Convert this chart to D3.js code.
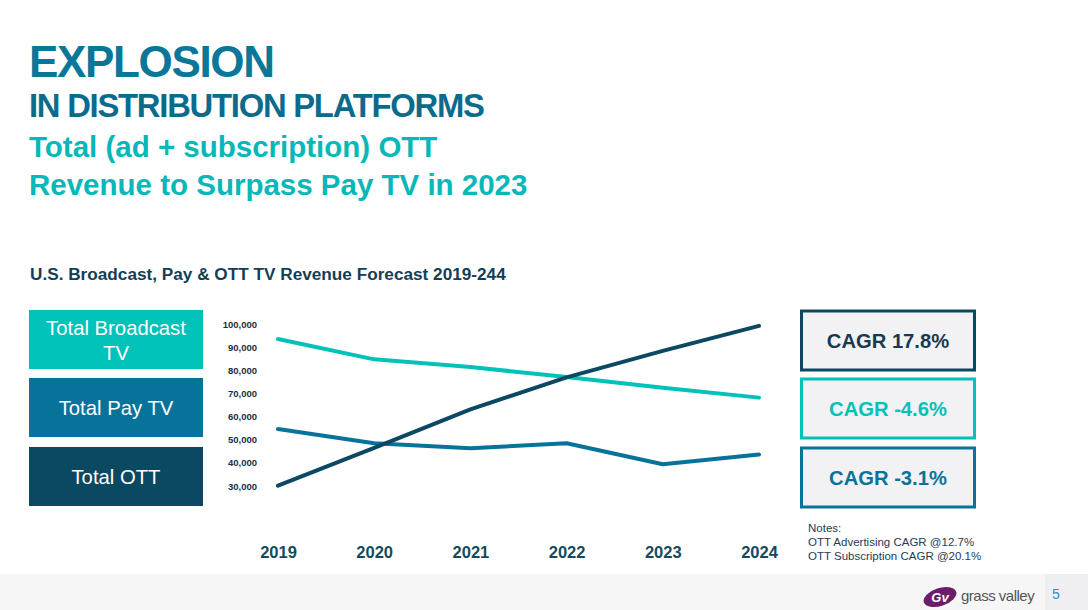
<!DOCTYPE html>
<html><head><meta charset="utf-8">
<script src="https://cdn.jsdelivr.net/npm/d3@7"></script>
<style>
html,body{margin:0;padding:0;background:#fff;}
svg{display:block;font-family:"Liberation Sans",Arial,sans-serif;}
</style></head>
<body>
<svg id="c" width="1088" height="610"></svg>
<script>
const years = ["2019","2020","2021","2022","2023","2024"];
const broadcastTV = [93600, 84800, 81500, 77100, 72500, 68200];
const payTV = [54600, 48400, 46200, 48400, 39300, 43500];
const ott = [30000, 46400, 63100, 77000, 88500, 99300];
const yTicks = [30000, 40000, 50000, 60000, 70000, 80000, 90000, 100000];
const seriesNames = ["Total Broadcast TV", "Total Pay TV", "Total OTT"];
const cagrLabels = ["CAGR 17.8%", "CAGR -4.6%", "CAGR -3.1%"];
const notes = ["Notes:", "OTT Advertising CAGR @12.7%", "OTT Subscription CAGR @20.1%"];

const cBroad = "#00c2b8", cPay = "#08739a", cOtt = "#0b4862";
const svg = d3.select("#c");

// footer band
svg.append("rect").attr("x",0).attr("y",574).attr("width",1088).attr("height",36).attr("fill","#f6f6f7");
svg.append("rect").attr("x",1045).attr("y",574).attr("width",43).attr("height",36).attr("fill","#efeff1");
svg.append("text").attr("x",1056).attr("y",599).attr("font-size",14).attr("fill","#2a8fc8").attr("text-anchor","middle").text("5");
// logo
const lg = svg.append("g");
lg.append("ellipse").attr("cx",940).attr("cy",597).attr("rx",17).attr("ry",9).attr("transform","rotate(-18 940 597)").attr("fill","#6b1d6a");
lg.append("text").attr("x",940).attr("y",602).attr("font-size",13).attr("font-style","italic").attr("font-weight","bold").attr("fill","#fff").attr("text-anchor","middle").text("Gv");
lg.append("text").attr("x",961).attr("y",601).attr("font-size",15).attr("fill","#555").attr("letter-spacing","-0.5").text("grass valley");

// titles
svg.append("text").attr("x",29).attr("y",77).attr("font-size",44).attr("font-weight","bold").attr("fill","#0a7799").attr("letter-spacing","-1.35").text("EXPLOSION");
svg.append("text").attr("x",29).attr("y",117).attr("font-size",32.8).attr("font-weight","bold").attr("fill","#0c6b8c").attr("letter-spacing","-1.25").text("IN DISTRIBUTION PLATFORMS");
svg.append("text").attr("x",29).attr("y",157).attr("font-size",29.5).attr("font-weight","bold").attr("fill","#06b8b8").text("Total (ad + subscription) OTT");
svg.append("text").attr("x",29).attr("y",195).attr("font-size",29.5).attr("font-weight","bold").attr("fill","#06b8b8").text("Revenue to Surpass Pay TV in 2023");
svg.append("text").attr("x",30).attr("y",280).attr("font-size",17.2).attr("font-weight","bold").attr("fill","#143e58").text("U.S. Broadcast, Pay & OTT TV Revenue Forecast 2019-244");

// left legend boxes
const legCols = [cBroad, cPay, cOtt];
const legY = [310, 378, 447];
seriesNames.forEach((n,i)=>{
  svg.append("rect").attr("x",29).attr("y",legY[i]).attr("width",174).attr("height",59).attr("fill",legCols[i]);
  const t = svg.append("text").attr("x",116).attr("font-size",20.3).attr("fill","#fff").attr("text-anchor","middle");
  if(i===0){
    t.append("tspan").attr("x",116).attr("y",legY[i]+25).text("Total Broadcast");
    t.append("tspan").attr("x",116).attr("y",legY[i]+50).text("TV");
  } else {
    t.attr("y",legY[i]+37).text(n);
  }
});

// right CAGR boxes
const cagrCols = [cOtt, cBroad, cPay];
const cagrY = [310, 378, 447];
cagrLabels.forEach((l,i)=>{
  svg.append("rect").attr("x",801.5).attr("y",cagrY[i]+1).attr("width",173).attr("height",59).attr("fill","#f2f2f4").attr("stroke",cagrCols[i]).attr("stroke-width",3);
  svg.append("text").attr("x",888).attr("y",cagrY[i]+38).attr("font-size",20.2).attr("font-weight","bold").attr("fill",cagrCols[i]===cOtt?"#173a52":cagrCols[i]).attr("text-anchor","middle").text(l);
});
notes.forEach((n,i)=>{
  svg.append("text").attr("x",808).attr("y",532+i*14).attr("font-size",11.5).attr("fill","#1e3c55").text(n);
});

// chart
const x = d3.scalePoint().domain(years).range([278, 759]);
const y = d3.scaleLinear().domain([30000, 100000]).range([485.7, 324.3]);

const yAxis = d3.axisLeft(y).tickValues(yTicks).tickFormat(d3.format(",")).tickSize(0).tickPadding(0);
const ya = svg.append("g").attr("transform","translate(257,0)").call(yAxis);
ya.select(".domain").remove();
ya.selectAll("text").attr("font-size",9.5).attr("font-weight","bold").attr("fill","#1b2e40").attr("font-family","Liberation Sans, Arial, sans-serif").attr("dy","0.35em");

const xAxis = d3.axisBottom(x).tickSize(0).tickPadding(0);
const xa = svg.append("g").attr("transform","translate(0,546)").call(xAxis);
xa.select(".domain").remove();
xa.selectAll("text").attr("font-size",16.5).attr("font-weight","bold").attr("fill","#144a60").attr("font-family","Liberation Sans, Arial, sans-serif").attr("dy","0.75em");

const line = d3.line().x((d,i)=>x(years[i])).y(d=>y(d));
[[broadcastTV,cBroad],[payTV,cPay],[ott,cOtt]].forEach(([data,col])=>{
  svg.append("path").datum(data).attr("d",line).attr("fill","none").attr("stroke",col).attr("stroke-width",4).attr("stroke-linecap","round").attr("stroke-linejoin","round");
});
</script>
</body></html>
